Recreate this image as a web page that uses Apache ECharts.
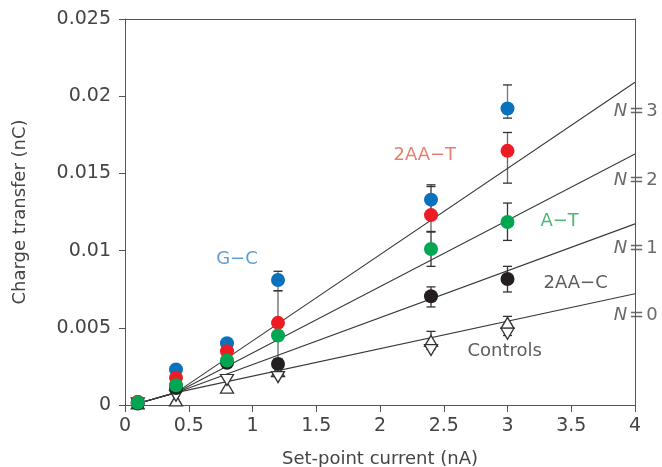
<!DOCTYPE html>
<html>
<head>
<meta charset="utf-8">
<script src="https://cdn.jsdelivr.net/npm/echarts@6/dist/echarts.min.js"></script>
<style>
html,body{margin:0;padding:0;background:#fff;}
#chart{width:662px;height:467px;}
</style>
</head>
<body>
<div id="chart"></div>
<script>
// ---- data ----
const xValues = [0.1, 0.4, 0.8, 1.2, 2.4, 3.0];
const gcValues   = [0.0002, 0.0023, 0.0040, 0.0081, 0.0133, 0.0192];
const aatValues  = [0.0002, 0.00176, 0.00348, 0.00532, 0.0123, 0.01646];
const atValues   = [0.00014, 0.00128, 0.00288, 0.0045, 0.0101, 0.01185];
const aacValues  = [0.0001, 0.0011, 0.00273, 0.00266, 0.00704, 0.00816];
const ctrlUpValues   = [0.0001, 0.0003, 0.00113, 0.0022, 0.00415, 0.00532];
const ctrlDownValues = [0.0001, 0.0006, 0.00162, 0.00181, 0.00356, 0.00462];

const errX = [1.2, 2.4, 3.0];
const gcErrLo  = [0.0074, 0.0124, 0.01858];
const gcErrHi  = [0.00866, 0.01426, 0.02073];
const aatErrLo = [0.0030, 0.0112, 0.01437];
const aatErrHi = [0.0074, 0.01415, 0.01765];
const atErrX   = [2.4, 3.0];
const atErrLo  = [0.00898, 0.01066];
const atErrHi  = [0.01124, 0.01308];
const aacErrLo = [0.00635, 0.00732];
const aacErrHi = [0.00765, 0.00898];
const ctrlErrLo = [0.0036, 0.0045];
const ctrlErrHi = [0.00477, 0.00574];

const lineX = [0.1, 0.4, 4];
const lineN0 = [0.0001, 0.0008, 0.0072];
const lineN1 = [0.0001, 0.0008, 0.01173];
const lineN2 = [0.0001, 0.0008, 0.01625];
const lineN3 = [0.0001, 0.0008, 0.0209];

const xTicks = [0, 0.5, 1, 1.5, 2, 2.5, 3, 3.5, 4];
const yTicks = [0, 0.005, 0.01, 0.015, 0.02, 0.025];

const annotations = [
  {text: 'G−C', x: 0.878, y: 0.00941, color: '#3a86c4'},
  {text: '2AA−T', x: 2.351, y: 0.0162, color: '#e0604e'},
  {text: 'A−T', x: 3.409, y: 0.01187, color: '#22a852'},
  {text: '2AA−C', x: 3.534, y: 0.00786, color: '#333333'},
  {text: 'Controls', x: 2.978, y: 0.00346, color: '#333333'}
];
const nLabels = [
  {n: '3', x: 4.005, y: 0.01905},
  {n: '2', x: 4.005, y: 0.01452},
  {n: '1', x: 4.005, y: 0.01012},
  {n: '0', x: 4.005, y: 0.00579}
];

// ---- helpers ----
const FONT = 'DejaVu Sans';
const TXT = '#444';
function zip(xs, ys) { return xs.map((x, i) => [x, ys[i]]); }
function zip3(xs, a, b) { return xs.map((x, i) => [x, a[i], b[i]]); }

function errSeries(xs, lo, hi, lineColor) {
  return {
    type: 'custom',
    z: 1,
    data: zip3(xs, lo, hi),
    renderItem: function (params, api) {
      const x = api.value(0);
      const pLo = api.coord([x, api.value(1)]);
      const pHi = api.coord([x, api.value(2)]);
      const w = 4.5;
      return {
        type: 'group',
        children: [
          {type: 'line', shape: {x1: pLo[0], y1: pLo[1], x2: pHi[0], y2: pHi[1]}, style: {stroke: lineColor, lineWidth: 1.3}},
          {type: 'line', shape: {x1: pLo[0] - w, y1: pLo[1], x2: pLo[0] + w, y2: pLo[1]}, style: {stroke: '#333', lineWidth: 1.3}},
          {type: 'line', shape: {x1: pHi[0] - w, y1: pHi[1], x2: pHi[0] + w, y2: pHi[1]}, style: {stroke: '#333', lineWidth: 1.3}}
        ]
      };
    }
  };
}
function fitLine(ys) {
  return {
    type: 'line', data: zip(lineX, ys), symbol: 'none', z: 2,
    lineStyle: {color: '#3a3a3a', width: 1.1}, silent: true, animation: false
  };
}
function dots(ys, color, z) {
  return {
    type: 'scatter', data: zip(xValues, ys), symbol: 'circle', symbolSize: 14, z: z,
    itemStyle: {color: color, opacity: 1}
  };
}
function tri(ys, rotate, z) {
  return {
    type: 'scatter', data: zip(xValues, ys), symbol: 'triangle', symbolSize: [13, 11],
    symbolRotate: rotate, z: z,
    itemStyle: {color: '#fff', borderColor: '#333', borderWidth: 1.3, opacity: 1}
  };
}
function fmt(v) { return String(+v.toFixed(4)); }

const chart = echarts.init(document.getElementById('chart'), null, {renderer: 'canvas'});

const annSeries = {
  type: 'scatter', symbolSize: 0, z: 20, silent: true, clip: false,
  data: annotations.map(a => ({
    value: [a.x, a.y],
    label: {show: true, position: 'inside', formatter: a.text, color: a.color,
            fontFamily: FONT, fontSize: 18}
  }))
};
const nSeries = {
  type: 'scatter', symbolSize: 0, z: 1, silent: true, clip: false,
  data: nLabels.map(a => ({
    value: [a.x, a.y],
    label: {
      show: true, position: 'inside',
      formatter: '{i|N}{e|=}{d|' + a.n + '}',
      rich: {
        i: {fontFamily: FONT, fontSize: 18, fontStyle: 'italic', color: TXT},
        e: {fontFamily: FONT, fontSize: 18, color: TXT, padding: [0, 2, 0, 2]},
        d: {fontFamily: FONT, fontSize: 18, color: TXT}
      }
    }
  }))
};

const option = {
  animation: false,
  backgroundColor: '#fff',
  grid: {left: 125, right: 27, top: 19, bottom: 62, show: false,
         containLabel: false, outerBoundsMode: 'none'},
  xAxis: [{
    type: 'value', min: 0, max: 4, interval: 0.5,
    name: 'Set-point current (nA)', nameLocation: 'middle', nameGap: 45,
    nameTextStyle: {fontFamily: FONT, fontSize: 18, color: TXT},
    axisLine: {show: true, onZero: false, lineStyle: {color: '#555', width: 1}},
    axisTick: {show: true, length: 7, lineStyle: {color: '#555'}},
    axisLabel: {margin: 12, fontFamily: FONT, fontSize: 19, color: TXT,
                formatter: v => xTicks.indexOf(+v.toFixed(4)) >= 0 ? fmt(v) : ''},
    splitLine: {show: false}
  }, {
    type: 'value', min: 0, max: 4, position: 'top', z: 10,
    axisLine: {show: true, onZero: false, lineStyle: {color: '#555', width: 1}},
    axisTick: {show: false}, axisLabel: {show: false}, splitLine: {show: false}
  }],
  yAxis: [{
    type: 'value', min: 0, max: 0.025, interval: 0.005,
    name: 'Charge transfer (nC)', nameLocation: 'middle', nameGap: 96,
    nameTextStyle: {fontFamily: FONT, fontSize: 18, color: TXT},
    axisLine: {show: true, onZero: false, lineStyle: {color: '#555', width: 1}},
    axisTick: {show: true, length: 6, lineStyle: {color: '#555'}},
    axisLabel: {margin: 14, fontFamily: FONT, fontSize: 19, color: TXT,
                formatter: v => yTicks.indexOf(+v.toFixed(4)) >= 0 ? fmt(v) : ''},
    splitLine: {show: false}
  }, {
    type: 'value', min: 0, max: 0.025, position: 'right', z: 10,
    axisLine: {show: true, onZero: false, lineStyle: {color: '#555', width: 1}},
    axisTick: {show: false}, axisLabel: {show: false}, splitLine: {show: false}
  }],
  series: [
    fitLine(lineN0), fitLine(lineN1), fitLine(lineN2), fitLine(lineN3),
    errSeries(errX, gcErrLo, gcErrHi, '#777'),
    errSeries(errX, aatErrLo, aatErrHi, '#666'),
    errSeries(atErrX, atErrLo, atErrHi, '#333'),
    errSeries(atErrX, aacErrLo, aacErrHi, '#333'),
    errSeries(atErrX, ctrlErrLo, ctrlErrHi, '#333'),
    tri(ctrlUpValues, 0, 3),
    tri(ctrlDownValues, 180, 3),
    dots(aacValues, '#231f20', 4),
    dots(gcValues, '#0a72bc', 5),
    dots(aatValues, '#ed1c24', 6),
    dots(atValues, '#00a651', 7),
    annSeries,
    nSeries
  ]
};
chart.setOption(option);
</script>
</body>
</html>
